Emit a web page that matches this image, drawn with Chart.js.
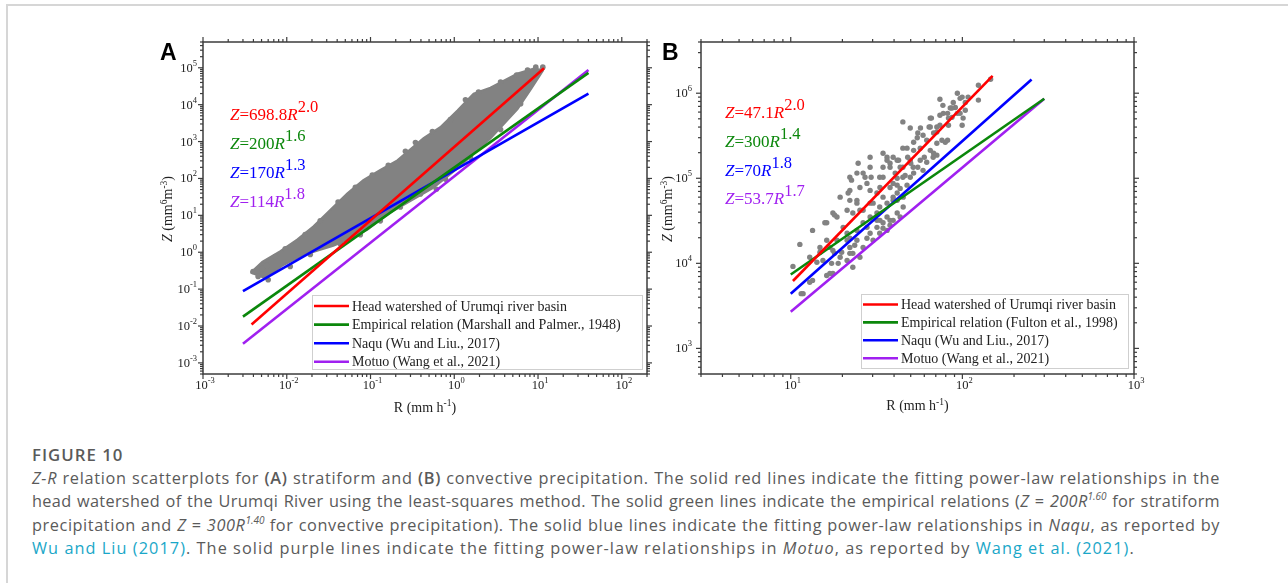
<!DOCTYPE html>
<html>
<head>
<meta charset="utf-8">
<script src="https://cdn.jsdelivr.net/npm/chart.js@4.4.1/dist/chart.umd.min.js"></script>
<style>
html,body{margin:0;padding:0;background:#fff;width:1288px;height:583px;overflow:hidden;}
#frame{position:absolute;left:6px;top:4px;width:1300px;height:620px;border-left:2px solid #d6d6d6;border-top:2px solid #d6d6d6;}
#cA{position:absolute;left:140px;top:30px;}
#cB{position:absolute;left:650px;top:30px;}
#cap{position:absolute;left:32px;top:443px;font-family:"Open Sans","Noto Sans",sans-serif;font-size:16.3px;letter-spacing:0.3px;line-height:23.5px;color:#5a5a5a;white-space:nowrap;}
#cap .fig{font-weight:600;color:#5a5a5a;letter-spacing:1px;font-size:16.8px;}
#cap .j{width:1188px;text-align:justify;text-align-last:justify;}
#cap .l1{letter-spacing:0.7px;}
#cap .l2{letter-spacing:0.32px;}
#cap .l3{letter-spacing:0.58px;}
#cap .last{letter-spacing:1.05px;}
#cap b{font-weight:600;}
#cap sup{font-size:10px;line-height:0;vertical-align:7px;letter-spacing:0;}
#cap a{color:#1aa7c8;text-decoration:none;}
</style>
</head>
<body>
<div id="frame"></div>
<canvas id="cA" width="520" height="400"></canvas>
<canvas id="cB" width="500" height="400"></canvas>
<div id="cap">
<div class="fig">FIGURE 10</div>
<div class="j l1"><i>Z-R</i> relation scatterplots for <b>(A)</b> stratiform and <b>(B)</b> convective precipitation. The solid red lines indicate the fitting power-law relationships in the</div>
<div class="j l2">head watershed of the Urumqi River using the least-squares method. The solid green lines indicate the empirical relations (<i>Z</i> = <i>200R<sup>1.60</sup></i> for stratiform</div>
<div class="j l3">precipitation and <i>Z</i> = <i>300R<sup>1.40</sup></i> for convective precipitation). The solid blue lines indicate the fitting power-law relationships in <i>Naqu</i>, as reported by</div>
<div class="last"><a>Wu and Liu (2017)</a>. The solid purple lines indicate the fitting power-law relationships in <i>Motuo</i>, as reported by <a>Wang et al. (2021)</a>.</div>
</div>
<script>
// ---------------- DATA ----------------
const seriesColors = ['#ff0000', '#0b870b', '#0000ff', '#a020f0'];

// Panel A (stratiform)
const labelsA = ['Head watershed of Urumqi river basin', 'Empirical relation (Marshall and Palmer., 1948)', 'Naqu (Wu and Liu., 2017)', 'Motuo (Wang et al., 2021)'];
const coefA = ['698.8', '200', '170', '114'];
const expA = ['2.0', '1.6', '1.3', '1.8'];
const xTickExpA = [-3, -2, -1, 0, 1, 2];
const yTickExpA = [-3, -2, -1, 0, 1, 2, 3, 4, 5];
const redA = [[0.0038, 0.011], [11.8, 9.7e4]];
const greenA = [[0.003, 0.018], [40, 7.3e4]];
const blueA = [[0.003, 0.088], [40, 2.0e4]];
const purpleA = [[0.003, 0.0033], [40, 8.7e4]];
// dense cloud outline (upper and lower edge of the grey mass)
const cloudUpperA = [[0.0037, 0.28], [0.0051, 0.55], [0.0083, 1.05], [0.0133, 2.2], [0.0207, 5.0], [0.033, 14], [0.053, 40], [0.082, 90], [0.131, 170], [0.209, 310], [0.43, 1250], [0.68, 2450], [1.09, 7000], [1.70, 2.0e4], [2.7, 2.9e4], [5.7, 7.0e4], [8.9, 9.6e4], [11.6, 8.7e4]];
const cloudLowerA = [[0.0037, 0.28], [0.0055, 0.20], [0.0091, 0.45], [0.0145, 0.77], [0.023, 1.1], [0.036, 1.5], [0.057, 2.3], [0.092, 4.1], [0.17, 11.7], [0.56, 55], [1.09, 185], [2.7, 1200], [5.7, 7600], [8.2, 2.6e4], [11.6, 8.7e4]];
// individual drops visible along the cloud edges
const cloudDotsA = [[0.00396, 0.30], [0.0051, 0.36], [0.0058, 0.44], [0.0073, 0.76], [0.0096, 1.24], [0.0166, 3.0], [0.0251, 7.1], [0.041, 23], [0.066, 58], [0.105, 123], [0.163, 228], [0.261, 542], [0.344, 946], [0.548, 1870], [0.90, 3930], [1.36, 1.36e4], [1.95, 2.2e4], [3.57, 4.1e4], [5.55, 6.4e4], [7.5, 8.7e4], [9.4, 1.04e5], [11.4, 1.04e5], [0.00455, 0.22], [0.006, 0.18], [0.011, 0.41], [0.0191, 0.87], [0.0435, 1.71], [0.0755, 3.0], [0.131, 7.1], [0.227, 16.9], [0.394, 37.8], [0.612, 51], [0.785, 96], [1.56, 374], [3.57, 2110], [6.2, 1.06e4]];

// Panel B (convective)
const labelsB = ['Head watershed of Urumqi river basin', 'Empirical relation (Fulton et al., 1998)', 'Naqu (Wu and Liu., 2017)', 'Motuo (Wang et al., 2021)'];
const coefB = ['47.1', '300', '70', '53.7'];
const expB = ['2.0', '1.4', '1.8', '1.7'];
const xTickExpB = [1, 2, 3];
const yTickExpB = [3, 4, 5, 6];
const redB = [[10.3, 6.2e3], [150, 1.6e6]];
const greenB = [[10, 7.4e3], [300, 8.6e5]];
const blueB = [[10, 4.4e3], [253, 1.45e6]];
const purpleB = [[10, 2.7e3], [300, 8.6e5]];
const dropsB = [[146, 1.46e6], [124, 1.24e6], [124, 8.3e5], [108, 9.0e5], [93.5, 1.0e6], [97, 8.7e5], [104, 7.8e5], [88.5, 7.8e5], [74, 8.5e5], [85, 6.7e5], [91, 6.8e5], [97, 5.8e5], [101, 5.1e5], [87, 5.2e5], [82, 5.8e5], [77, 7.2e5], [74, 5.5e5], [74, 4.2e5], [83, 4.2e5], [71, 4.0e5], [65, 5.1e5], [64, 4.0e5], [68, 3.4e5], [62, 2.8e5], [76, 2.8e5], [82, 2.8e5], [71, 1.87e5], [68, 1.97e5], [57, 3.9e5], [55, 3.4e5], [52, 2.65e5], [45, 4.6e5], [52, 2.13e5], [60, 1.77e5], [62, 1.54e5], [55, 1.35e5], [52, 1.15e5], [45, 2.26e5], [48, 1.77e5], [50, 1.5e5], [45, 1.35e5], [45, 1.03e5], [42.5, 1.63e5], [40.6, 1.15e5], [37.9, 1.5e5], [34.5, 1.97e5], [36.4, 1.77e5], [34.5, 1.35e5], [33, 1.03e5], [29, 1.77e5], [34.5, 1.03e5], [37.9, 7.8e4], [41.7, 8.3e4], [29, 1.35e5], [26.4, 1.15e5], [24.3, 1.15e5], [25.3, 7.8e4], [27.8, 8.7e4], [29, 7.2e4], [31.8, 6.7e4], [34.5, 6.0e4], [22.1, 7.2e4], [22.1, 5.5e4], [24.3, 5.1e4], [26.4, 4.2e4], [29, 5.1e4], [33, 4.6e4], [36.4, 5.1e4], [39.5, 6.0e4], [43.4, 3.5e4], [37.9, 3.2e4], [34.5, 3.0e4], [31.8, 3.2e4], [29, 3.5e4], [26.4, 3.0e4], [23, 3.9e4], [21.3, 4.2e4], [19.4, 6.0e4], [17.6, 3.9e4], [16.2, 3.0e4], [22.1, 1.03e5], [24.7, 1.5e5], [18.6, 3.5e4], [29.4, 1.03e5], [27.1, 1.03e5], [22.6, 9.5e4], [21.6, 6.7e4], [24.3, 5.5e4], [25.3, 4.2e4], [18, 3.7e4], [15.8, 3.0e4], [13.4, 2.44e4], [11.3, 1.67e4], [10.3, 9.2e3], [20.2, 2.65e4], [21.3, 2.26e4], [22.1, 1.54e4], [23, 1.31e4], [24.3, 1.87e4], [26.4, 1.54e4], [19.4, 1.18e4], [21.3, 1.08e4], [18.9, 1.0e4], [16.9, 7.6e3], [15.4, 1.08e4], [13.4, 6.3e3], [12.9, 6.0e3], [11.8, 4.4e3], [16.9, 1.54e4], [17.6, 1.42e4], [14.8, 1.35e4], [12.9, 1.18e4], [14.2, 1.03e4], [17.3, 1.0e4], [17.6, 7.6e3], [16.2, 7.2e3], [18, 1.31e4], [19.8, 1.35e4], [18.6, 1.87e4], [21.3, 1.87e4], [22.1, 1.31e4], [23, 9.0e3], [25.3, 1.18e4], [23.6, 1.63e4], [29, 2.26e4], [24.3, 2.44e4], [27.8, 2.65e4], [31.8, 2.65e4], [33, 2.26e4], [36.4, 2.44e4], [16.2, 1.87e4], [14.8, 1.54e4], [37.9, 2.8e4], [34.5, 2.58e4], [27.8, 1.97e4], [30.2, 1.87e4], [22.1, 1.97e4], [39.5, 1.77e5], [43.4, 1.35e5], [59, 1.24e5], [46.4, 1.08e5], [41.7, 1.0e5], [49.7, 1.03e5], [39.5, 8.7e4], [43.4, 7.6e4], [47.6, 8.3e4], [41.7, 6.7e4], [45.2, 6.0e4], [39.5, 5.5e4], [45.2, 4.6e4], [41.7, 3.9e4], [39.5, 3.2e4], [59, 3.2e5], [79.5, 2.65e5], [71, 2.58e5], [54.6, 3.0e5], [65, 2.13e5], [56.8, 2.26e5], [47.6, 2.26e5], [67.6, 1.77e5], [56.8, 1.63e5], [49.7, 1.63e5], [51.7, 1.35e5], [66, 5.1e5], [65, 4.0e5], [49.7, 3.9e5], [71, 3.5e5], [99.7, 9.0e5], [104, 6.3e5], [87, 6.7e5], [93.5, 5.8e5], [83, 5.1e5], [77.4, 5.8e5], [99.7, 4.2e5], [33.1, 7.8e4], [36.4, 1.63e5], [37.9, 1.35e5], [41.7, 1.63e5], [41.7, 5.5e4], [30.2, 5.1e4], [31.8, 3.9e4], [36.4, 3.5e4], [33.1, 3.2e4], [11.5, 4.4e3]];

// ---------------- HELPERS ----------------
const SERIF = '"Liberation Serif","Times New Roman",serif';
const pts = arr => arr.map(p => ({x: p[0], y: p[1]}));
function fontFor(r, o) { return (r.b ? 'bold ' : '') + (r.i ? 'italic ' : '') + (r.s ? o.supSize : o.size) + 'px ' + (o.family || SERIF); }
function drawRuns(ctx, runs, x, y, o) {
  const w = runs.map(r => { ctx.font = fontFor(r, o); return ctx.measureText(r.t).width; });
  const tot = w.reduce((a, b) => a + b, 0);
  let cx = o.align === 'right' ? x - tot : (o.align === 'center' ? x - tot / 2 : x);
  ctx.textAlign = 'left'; ctx.textBaseline = 'alphabetic'; ctx.fillStyle = o.color;
  runs.forEach((r, i) => { ctx.font = fontFor(r, o); ctx.fillText(r.t, cx, r.s ? y - o.rise : y); cx += w[i]; });
}
function logTicks(min, max) {
  const major = [], minor = [];
  for (let k = Math.floor(Math.log10(min)); k <= Math.ceil(Math.log10(max)); k++) {
    for (let m = 1; m <= 9; m++) {
      const v = m * Math.pow(10, k);
      if (v < min * 0.999 || v > max * 1.001) continue;
      (m === 1 ? major : minor).push(v);
    }
  }
  return {major, minor};
}

const zrPlugin = {
  id: 'zr',
  afterDatasetsDraw(chart, args, o) {
    const ctx = chart.ctx, ca = chart.chartArea, xs = chart.scales.x, ys = chart.scales.y;
    ctx.save();
    // frame
    ctx.strokeStyle = '#3c3c3c'; ctx.lineWidth = 1.5;
    ctx.strokeRect(ca.left, ca.top, ca.right - ca.left, ca.bottom - ca.top);
    // ticks on all four sides (outward)
    ctx.lineWidth = 1.2;
    const tx = logTicks(xs.min, xs.max), ty = logTicks(ys.min, ys.max);
    const seg = (x1, y1, x2, y2) => { ctx.beginPath(); ctx.moveTo(x1, y1); ctx.lineTo(x2, y2); ctx.stroke(); };
    [[tx.major, 5], [tx.minor, 3]].forEach(([vals, L]) => vals.forEach(v => {
      const px = xs.getPixelForValue(v);
      seg(px, ca.bottom, px, ca.bottom + L); seg(px, ca.top, px, ca.top - L);
    }));
    [[ty.major, 5], [ty.minor, 3]].forEach(([vals, L]) => vals.forEach(v => {
      const py = ys.getPixelForValue(v);
      seg(ca.left, py, ca.left - L, py); seg(ca.right, py, ca.right + L, py);
    }));
    // tick labels
    const lo = {size: 12.5, supSize: 8.5, rise: 6, color: '#222'};
    o.xExp.forEach(e => {
      const px = xs.getPixelForValue(Math.pow(10, e));
      drawRuns(ctx, [{t: '10'}, {t: String(e), s: 1}], px + 2, ca.bottom + 14.5, Object.assign({align: 'center'}, lo));
    });
    o.yExp.forEach(e => {
      const py = ys.getPixelForValue(Math.pow(10, e));
      drawRuns(ctx, [{t: '10'}, {t: String(e), s: 1}], ca.left - o.yLabelGap, py + 4, Object.assign({align: 'right'}, lo));
    });
    // axis titles
    const to = {size: 14, supSize: 9.5, rise: 5.5, color: '#222', align: 'center'};
    drawRuns(ctx, [{t: 'R (mm h'}, {t: '-1', s: 1}, {t: ')'}], (ca.left + ca.right) / 2, ca.bottom + o.xTitleGap, to);
    ctx.save();
    ctx.translate(o.yTitleX, (ca.top + ca.bottom) / 2 + 1);
    ctx.rotate(-Math.PI / 2);
    drawRuns(ctx, [{t: 'Z', i: 1}, {t: ' (mm'}, {t: '6', s: 1}, {t: 'm'}, {t: '-3', s: 1}, {t: ')'}], 0, 5, to);
    ctx.restore();
    // equations
    const eo = {size: 17, supSize: 16.5, rise: 8};
    o.coef.forEach((c, i) => {
      drawRuns(ctx, [{t: 'Z', i: 1}, {t: '=' + c}, {t: 'R', i: 1}, {t: o.exp[i], s: 1}], o.eqX, o.eqY0 + i * o.eqStep, Object.assign({color: seriesColors[i]}, eo));
    });
    // legend
    const lg = o.legend;
    ctx.fillStyle = '#fff'; ctx.fillRect(lg.x, lg.y, lg.w, lg.h);
    ctx.strokeStyle = '#cfcfcf'; ctx.lineWidth = 1; ctx.strokeRect(lg.x + 0.5, lg.y + 0.5, lg.w, lg.h);
    chart.data.datasets.slice(0, 4).forEach((ds, i) => {
      const ly = lg.row0 + i * lg.step;
      ctx.strokeStyle = ds.borderColor; ctx.lineWidth = 2.6;
      seg(lg.x + 2, ly, lg.x + 37, ly);
      ctx.font = '14px ' + SERIF; ctx.fillStyle = '#222'; ctx.textAlign = 'left'; ctx.textBaseline = 'alphabetic';
      ctx.fillText(ds.label, lg.x + lg.textDx, ly + 4.5);
    });
    // panel letter
    ctx.font = 'bold 23px "Liberation Sans",Arial,sans-serif'; ctx.fillStyle = '#000'; ctx.textAlign = 'left';
    ctx.fillText(o.letter, o.letterX, 29.5);
    ctx.restore();
  }
};

function lineDs(label, data, color) {
  return {label, data: pts(data), borderColor: color, backgroundColor: color, borderWidth: 2.6, pointRadius: 0, showLine: true, fill: false, tension: 0};
}

function makeChart(id, c) {
  return new Chart(document.getElementById(id), {
    type: 'line',
    data: {datasets: c.datasets},
    options: {
      responsive: false, animation: false, events: [], devicePixelRatio: 1,
      layout: {padding: {left: 0, top: 12, right: c.padRight, bottom: 0}},
      plugins: {legend: {display: false}, tooltip: {enabled: false}, zr: c.deco},
      scales: {
        x: {type: 'logarithmic', min: c.xMin, max: c.xMax, ticks: {display: false}, grid: {display: false}, border: {display: false}, afterFit: s => { s.height = 56; }},
        y: {type: 'logarithmic', min: c.yMin, max: c.yMax, ticks: {display: false}, grid: {display: false}, border: {display: false}, afterFit: s => { s.width = c.yWidth; }}
      }
    },
    plugins: [zrPlugin]
  });
}

const grey = '#828282';
makeChart('cA', {
  xMin: 1e-3, xMax: 200, yMin: 5e-4, yMax: 5e5, yWidth: 63, padRight: 13,
  datasets: [
    lineDs(labelsA[0], redA, seriesColors[0]),
    lineDs(labelsA[1], greenA, seriesColors[1]),
    lineDs(labelsA[2], blueA, seriesColors[2]),
    lineDs(labelsA[3], purpleA, seriesColors[3]),
    {label: 'drops', data: pts(cloudDotsA), showLine: false, pointRadius: 2.8, pointBackgroundColor: grey, pointBorderWidth: 0, borderColor: grey},
    {label: 'cloud upper', data: pts(cloudUpperA), showLine: true, pointRadius: 0, borderColor: grey, borderWidth: 2, fill: false, tension: 0},
    {label: 'cloud lower', data: pts(cloudLowerA), showLine: true, pointRadius: 0, borderColor: grey, borderWidth: 2, backgroundColor: grey, fill: '-1', tension: 0}
  ],
  deco: {xExp: xTickExpA, yExp: yTickExpA, yLabelGap: 6, xTitleGap: 37.5, yTitleX: 27, coef: coefA, exp: expA, eqX: 90, eqY0: 89.5, eqStep: 29.2,
    legend: {x: 172, y: 265, w: 330, h: 74, row0: 276, step: 18.6, textDx: 40}, letter: 'A', letterX: 20}
});

makeChart('cB', {
  xMin: 3, xMax: 1000, yMin: 500, yMax: 4e6, yWidth: 51, padRight: 16,
  datasets: [
    lineDs(labelsB[0], redB, seriesColors[0]),
    lineDs(labelsB[1], greenB, seriesColors[1]),
    lineDs(labelsB[2], blueB, seriesColors[2]),
    lineDs(labelsB[3], purpleB, seriesColors[3]),
    {label: 'drops', data: pts(dropsB), showLine: false, pointRadius: 2.7, pointBackgroundColor: grey, pointBorderWidth: 0, borderColor: grey}
  ],
  deco: {xExp: xTickExpB, yExp: yTickExpB, yLabelGap: 9, xTitleGap: 36, yTitleX: 17, coef: coefB, exp: expB, eqX: 75, eqY0: 88.3, eqStep: 28.6,
    legend: {x: 211, y: 264, w: 267, h: 74, row0: 274.5, step: 17.9, textDx: 40}, letter: 'B', letterX: 12}
});
</script>
</body>
</html>
